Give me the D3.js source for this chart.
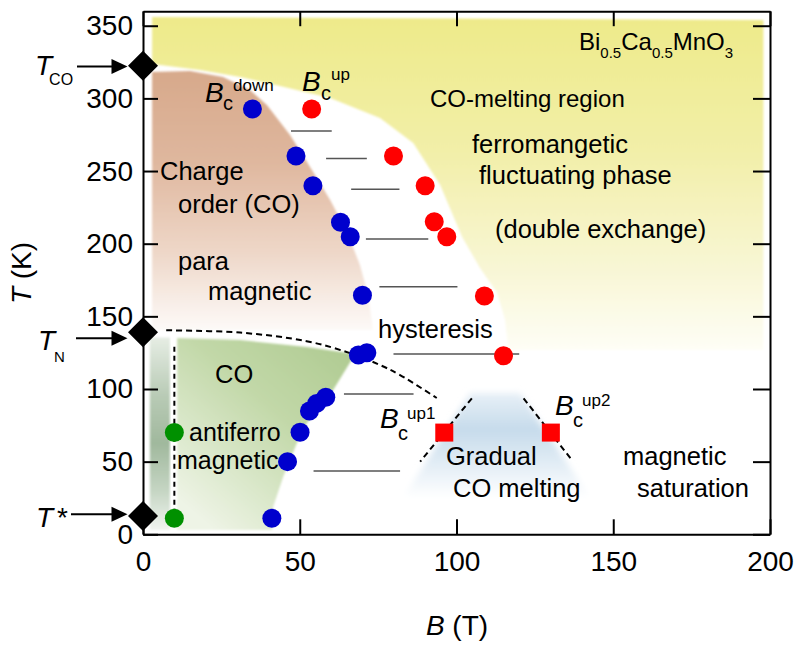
<!DOCTYPE html>
<html><head><meta charset="utf-8">
<script src="https://cdn.jsdelivr.net/npm/d3@7"></script>
<style>
body{margin:0;background:#fff;}
svg{display:block;font-family:"Liberation Sans",Arial,Helvetica,sans-serif;}
</style></head><body>
<svg id="chart" width="800" height="652"></svg>
<script>
// ---------- data ----------
const xTicks = [0, 50, 100, 150, 200];
const yTicks = [0, 50, 100, 150, 200, 250, 300, 350];

// B_c^down (blue) [B (T), T (K)]
const bcDown = [[34.9,292.7],[48.8,260.3],[54.2,239.9],[63.0,214.7],[66.1,204.8],[70.0,164.5],
                [68.7,123.4],[71.4,125.0],[58.3,94.3],[55.4,90.1],[53.1,84.9],[50.1,70.2],[46.1,50.0],[41.1,11.0]];
// B_c^up (red)
const bcUp = [[53.8,292.7],[79.9,260.3],[90.0,239.9],[92.9,215.1],[96.9,204.8],[108.9,164.0],[115.0,122.9]];
// green points
const greenPts = [[10,70],[10,11]];
// B_c^up1, B_c^up2 (red squares)
const bcUpSq = [[96.1,70],[130.1,70]];
// hysteresis bars [T, Bstart, Bend]
const hystT  = [277.6, 258.7, 237.4, 203.2, 170.4, 124.0, 96.6, 43.6];
const hystB0 = [47.2, 58.4, 66.4, 71.1, 75.4, 79.9, 64.1, 54.4];
const hystB1 = [60.2, 71.4, 81.8, 91.0, 100.3, 120.0, 86.3, 82.0];
// characteristic temperatures (diamonds) T_CO, T_N, T*
const diamondT = [322.5, 139, 12.6];
const arrowT   = [322, 135, 13.8];

// boundaries / dashed lines
const tnCurve = [[7.4,140.4],[31,138.8],[52.2,132.9],[66,124.7],[75.6,116.5],[82,109.6],[93.7,93.8]];
const vDash   = [[10,129],[10,11]];
const up1Dash = [[104.9,93.6],[88.4,50]];
const up2Dash = [[121.4,93.6],[136.8,51.1]];

// shaded regions
const yellowRegion = [[2.9,356],[197.9,354],[197.9,126.8],[116.5,126.8],[115.5,147.5],[113.0,166.1],[107.5,183.3],
  [101.8,204.6],[94.8,240.4],[86.2,269.3],[75.6,286.5],[59.7,300.2],[43.7,308.5],[31.0,314.7],[18.2,319.6],[2.9,323.7]];
const brownRegion = [[2.9,318.1],[15.0,318.8],[25.5,314.7],[34.1,305.8],[39.5,295.5],[46.9,274.8],[53.9,250.7],
  [59.7,230.1],[65.1,208.0],[69.2,185.3],[71.8,164.7],[73.4,140.6],[2.9,140.6]];
const greenRegion = [[10.9,135.1],[31.0,133.7],[52.3,128.9],[67.7,124.1],[58.7,92.4],[52.3,76.6],[49.1,62.9],
  [44.7,39.5],[41.5,18.8],[41.2,3.0],[10.9,3.0]];
const stripRegion = [[2.2,135.5],[8.6,135.5],[8.6,3.0],[2.2,3.0]];
const blueRegion = [[104.4,97.3],[120.3,97.3],[142.7,25.1],[83.0,25.1]];

// ---------- chart ----------
const svg = d3.select("#chart");
const x = d3.scaleLinear().domain([0,200]).range([143,770]);
const y = d3.scaleLinear().domain([0,360]).range([534.3,11.2]);
const line = d3.line().x(d=>x(d[0])).y(d=>y(d[1]));

const defs = svg.append("defs");
function grad(id, stops, x1=0,y1=0,x2=0,y2=1){
  const g = defs.append("linearGradient").attr("id",id)
    .attr("x1",x1).attr("y1",y1).attr("x2",x2).attr("y2",y2);
  stops.forEach(s=>g.append("stop").attr("offset",s[0]).attr("stop-color",s[1]));
}
grad("gYellow",[[0,"#eeea8a"],[0.4,"#f2efa8"],[0.75,"#f8f6d4"],[1,"#fefef6"]]);
grad("gBrown",[[0,"#d7a98b"],[0.35,"#dfb79e"],[0.7,"#eed7c8"],[1,"#fdfaf8"]]);
grad("gGreen",[[0,"#adc98f"],[0.45,"#c2d8a8"],[1,"#eef4e6"]],1,0,0.2,1);
grad("gStrip",[[0,"#e6ede4"],[0.3,"#b9cbb6"],[0.55,"#a0b89d"],[0.8,"#c6d6c4"],[1,"#f0f4ef"]]);
grad("gBlue",[[0,"#e8f0f7"],[0.35,"#c6dbeb"],[0.7,"#e4eef6"],[1,"#ffffff"]]);
const f1 = defs.append("filter").attr("id","soft").attr("x","-5%").attr("y","-5%").attr("width","110%").attr("height","110%");
f1.append("feGaussianBlur").attr("stdDeviation",1);
const f2 = defs.append("filter").attr("id","soft2").attr("x","-10%").attr("y","-10%").attr("width","120%").attr("height","120%");
f2.append("feGaussianBlur").attr("stdDeviation",3);

const regions = svg.append("g");
[[yellowRegion,"gYellow","soft"],[brownRegion,"gBrown","soft"],[greenRegion,"gGreen","soft"],
 [stripRegion,"gStrip","soft"],[blueRegion,"gBlue","soft2"]].forEach(r=>{
  regions.append("path").attr("d", line(r[0])+"Z").attr("fill","url(#"+r[1]+")").attr("filter","url(#"+r[2]+")");
});

// hysteresis bars
svg.append("g").selectAll("line").data(hystT).join("line")
  .attr("x1",(d,i)=>x(hystB0[i])).attr("x2",(d,i)=>x(hystB1[i]))
  .attr("y1",d=>y(d)).attr("y2",d=>y(d))
  .attr("stroke","#555").attr("stroke-width",1.5);

// dashed lines
const dashG = svg.append("g").attr("fill","none").attr("stroke","#000").attr("stroke-width",2).attr("stroke-dasharray","6,4");
dashG.append("path").attr("d", d3.line().x(d=>x(d[0])).y(d=>y(d[1])).curve(d3.curveCatmullRom)(tnCurve));
dashG.append("path").attr("d", line(vDash)).attr("stroke-dasharray","5,4");
dashG.append("path").attr("d", line(up1Dash));
dashG.append("path").attr("d", line(up2Dash));

// points
const ptG = svg.append("g");
ptG.selectAll(".bd").data(bcDown).join("circle").attr("cx",d=>x(d[0])).attr("cy",d=>y(d[1])).attr("r",9.5).attr("fill","#0000cd");
ptG.selectAll(".bu").data(bcUp).join("circle").attr("cx",d=>x(d[0])).attr("cy",d=>y(d[1])).attr("r",9.5).attr("fill","#ff0000");
ptG.selectAll(".gp").data(greenPts).join("circle").attr("cx",d=>x(d[0])).attr("cy",d=>y(d[1])).attr("r",9.5).attr("fill","#009000");
ptG.selectAll(".sq").data(bcUpSq).join("rect").attr("x",d=>x(d[0])-9).attr("y",d=>y(d[1])-9)
  .attr("width",18).attr("height",18).attr("fill","#ff0000");

// axes (inward ticks, full frame)
function styleAxis(g){ g.selectAll("path,line").attr("stroke","#000").attr("stroke-width",2);
  g.selectAll("text").attr("font-size",28).attr("fill","#000").attr("font-family","'Liberation Sans',Arial,sans-serif"); }
svg.append("g").attr("transform",`translate(0,${y(0)})`)
  .call(d3.axisBottom(x).tickValues(xTicks).tickSizeInner(-15).tickSizeOuter(0).tickPadding(17).tickFormat(d3.format("d"))).call(styleAxis);
svg.append("g").attr("transform",`translate(0,${y(360)})`)
  .call(d3.axisTop(x).tickValues(xTicks).tickSizeInner(-15).tickSizeOuter(0).tickFormat("")).call(styleAxis);
svg.append("g").attr("transform",`translate(${x(0)},0)`)
  .call(d3.axisLeft(y).tickValues(yTicks).tickSizeInner(-15).tickSizeOuter(0).tickPadding(10).tickFormat(d3.format("d"))).call(styleAxis);
svg.append("g").attr("transform",`translate(${x(200)},0)`)
  .call(d3.axisRight(y).tickValues(yTicks).tickSizeInner(-17).tickSizeOuter(0).tickFormat("")).call(styleAxis);

// axis titles
const xt = svg.append("text").attr("x",457).attr("y",635).attr("text-anchor","middle").attr("font-size",28);
xt.append("tspan").attr("font-style","italic").text("B");
xt.append("tspan").text(" (T)");
const yt = svg.append("text").attr("transform","translate(31,273) rotate(-90)").attr("text-anchor","middle").attr("font-size",28);
yt.append("tspan").attr("font-style","italic").text("T");
yt.append("tspan").text(" (K)");

// diamonds + arrows
const sym = d3.symbol().type(d3.symbolSquare).size(450);
svg.append("g").selectAll("path").data(diamondT).join("path")
  .attr("d",sym()).attr("transform",d=>`translate(${x(0)},${y(d)}) rotate(45)`).attr("fill","#000");
const arrowStart = [77, 76, 71];
const arG = svg.append("g");
arrowT.forEach((t,i)=>{
  const yy = y(t), tip = 127.5;
  arG.append("line").attr("x1",arrowStart[i]).attr("x2",tip-10).attr("y1",yy).attr("y2",yy).attr("stroke","#000").attr("stroke-width",2);
  arG.append("path").attr("d",`M${tip},${yy} L${tip-16},${yy-7.5} L${tip-16},${yy+7.5} Z`).attr("fill","#000");
});
// T labels
function tLabel(xp, yb, sub, subSize, subDy, subDx){
  const t = svg.append("text").attr("x",xp).attr("y",yb).attr("font-size",28);
  t.append("tspan").attr("font-style","italic").text("T");
  t.append("tspan").attr("font-size",subSize).attr("dy",subDy).attr("dx",subDx).text(sub);
}
tLabel(35,75,"CO",16,10,-3);
tLabel(38,350,"N",15,12,-1);
svg.append("text").attr("x",36).attr("y",527).attr("font-size",28).attr("font-style","italic").text("T");
svg.append("text").attr("x",57).attr("y",527).attr("font-size",28).text("*");

// B_c labels
function bcLabel(xb, yb, sub, supTxt, cDx, cDy, supDx, supDy){
  const g = svg.append("g");
  g.append("text").attr("x",xb).attr("y",yb).attr("font-size",28).attr("font-style","italic").text("B");
  g.append("text").attr("x",xb+cDx).attr("y",yb+cDy).attr("font-size",20).text("c");
  g.append("text").attr("x",xb+supDx).attr("y",yb+supDy).attr("font-size",17).text(supTxt);
}
bcLabel(205,102,"c","down",18,8,28,-11);
bcLabel(302,91,"c","up",19,9,29,-11);
bcLabel(380,428,"c","up1",18,12,27,-9);
bcLabel(555,415,"c","up2",18,12,27,-9);

// region texts
const labels = [
  ["Charge",160,180,25.5],["order (CO)",178,213,25.5],["para",178,270,25.5],["magnetic",208,300,25.5],
  ["CO",215,383,25.5],["antiferro",189,440.5,25],["magnetic",177,468.5,25],
  ["hysteresis",378,338,25.5],
  ["CO-melting region",430,107,24],["ferromangetic",472,153,25.5],["fluctuating phase",479,184,25.5],
  ["(double exchange)",495,238,25.5],
  ["Gradual",446,465,25.5],["CO melting",453,497,25.5],["magnetic",623,465,25.5],["saturation",637,497,25.5]
];
svg.append("g").selectAll("text").data(labels).join("text")
  .attr("x",d=>d[1]).attr("y",d=>d[2]).attr("font-size",d=>d[3]).attr("fill","#000").text(d=>d[0]);

// formula
const fm = svg.append("text").attr("x",579).attr("y",50).attr("font-size",24);
[["Bi",0],["0.5",8],["Ca",-8],["0.5",8],["MnO",-8],["3",8]].forEach((p,i)=>{
  fm.append("tspan").attr("dy",p[1]).attr("font-size", i%2 ? 15 : 24).text(p[0]);
});
</script>
</body></html>
